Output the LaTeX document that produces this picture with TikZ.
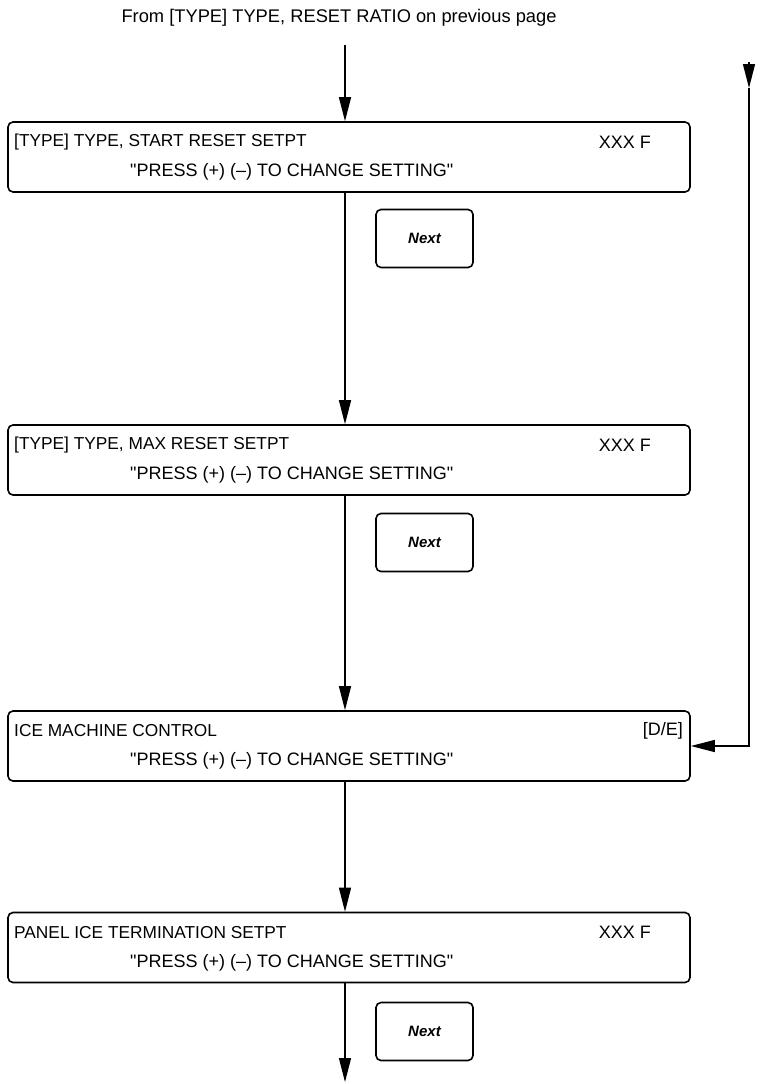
\documentclass[tikz,border=0pt]{standalone}
\usepackage{fontspec}
\setmainfont{Liberation Sans}[Ligatures=TeXOff]
\usetikzlibrary{arrows.meta}
\newcommand{\qq}{\symbol{34}}
\begin{document}
\begin{tikzpicture}[x=1pt,y=-1pt,
  box/.style={draw, line width=1.6pt, rounded corners=5pt, minimum width=682pt, minimum height=70pt, inner sep=0pt},
  nextbtn/.style={draw, line width=1.6pt, rounded corners=5pt, minimum width=97pt, minimum height=58pt, inner sep=0pt, font=\fontsize{15}{18}\selectfont\bfseries\itshape},
  txt/.style={font=\fontsize{17.3}{20}\selectfont, inner sep=0pt},
  txtb/.style={font=\fontsize{18}{21}\selectfont, inner sep=0pt},
  flow/.style={line width=1.3pt, -{Triangle[length=24pt,width=12pt]}}]
\useasboundingbox (0,0) rectangle (770,1084);
% title
\node[font=\fontsize{18.3}{21}\selectfont, inner sep=0pt] (title) at (339,18) {From [TYPE] TYPE, RESET RATIO on previous page};
\coordinate (t0) at (345,45);
% boxes
\node[box] (b1) at (349,157) {};
\node[box] (b2) at (349,460) {};
\node[box] (b3) at (349,746) {};
\node[box] (b4) at (349,947.5) {};
% box texts
\node[txt, anchor=west] (b1a) at (14,142) {[TYPE] TYPE, START RESET SETPT};
\node[txtb, anchor=east] (b1b) at (651,142) {XXX F};
\node[txtb, anchor=west] (b1c) at (130,172) {\qq PRESS (+) (–) TO CHANGE SETTING\qq};
\node[txt, anchor=west] (b2a) at (14,445) {[TYPE] TYPE, MAX RESET SETPT};
\node[txtb, anchor=east] (b2b) at (651,445) {XXX F};
\node[txtb, anchor=west] (b2c) at (130,475) {\qq PRESS (+) (–) TO CHANGE SETTING\qq};
\node[txt, anchor=west] (b3a) at (14,731) {ICE MACHINE CONTROL};
\node[txtb, anchor=east] (b3b) at (683,731) {[D/E]};
\node[txtb, anchor=west] (b3c) at (130,761) {\qq PRESS (+) (–) TO CHANGE SETTING\qq};
\node[txt, anchor=west] (b4a) at (14,932.5) {PANEL ICE TERMINATION SETPT};
\node[txtb, anchor=east] (b4b) at (651,932.5) {XXX F};
\node[txtb, anchor=west] (b4c) at (130,962.5) {\qq PRESS (+) (–) TO CHANGE SETTING\qq};
% next buttons
\node[nextbtn] (n1) at (424.5,238.5) {Next};
\node[nextbtn] (n2) at (424.5,542.5) {Next};
\node[nextbtn] (n3) at (424.5,1031.5) {Next};
% connectors
\coordinate (end) at (345,1082);
\draw[flow] (t0) -- (t0 |- b1.north);
\draw[flow] (t0 |- b1.south) -- (t0 |- b2.north);
\draw[flow] (t0 |- b2.south) -- (t0 |- b3.north);
\draw[flow] (t0 |- b3.south) -- (t0 |- b4.north);
\draw[flow] (t0 |- b4.south) -- (end);
\coordinate (r0) at (749,62);
\coordinate (r1) at (749,88);
\draw[flow] (r0) -- (r1);
\draw[flow] (r1) |- (b3.east);
\end{tikzpicture}
\end{document}
